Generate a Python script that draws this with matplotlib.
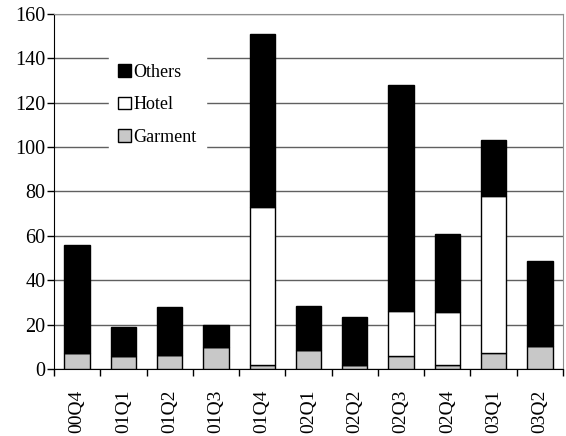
import matplotlib
matplotlib.use('Agg')
import matplotlib.pyplot as plt
import numpy as np

plt.rcParams['font.family'] = ['Liberation Serif', 'DejaVu Serif']

quarters = ['00Q4', '01Q1', '01Q2', '01Q3', '01Q4', '02Q1', '02Q2',
            '02Q3', '02Q4', '03Q1', '03Q2']
garment = [7, 6, 6.5, 10, 2, 8.5, 2, 6, 2, 7, 10.5]
hotel = [0, 0, 0, 0, 71, 0, 0, 20, 23.5, 71, 0]
others = [49, 13, 21.5, 10, 78, 20, 21.5, 102, 35.5, 25, 38]

fig = plt.figure(figsize=(5.66, 4.36), dpi=100)
ax = fig.add_axes([0.0954, 0.1537, 0.8993, 0.8143])

x = np.arange(len(quarters))
g = np.array(garment)
h = np.array(hotel)
o = np.array(others)
w = 0.55

ax.bar(x, g, w, color='#c8c8c8', edgecolor='black', linewidth=1, label='Garment', zorder=3)
ax.bar(x, h, w, bottom=g, color='white', edgecolor='black', linewidth=1, label='Hotel', zorder=3)
ax.bar(x, o, w, bottom=g + h, color='black', edgecolor='black', linewidth=1, label='Others', zorder=3)

ax.set_ylim(0, 160)
ax.set_xlim(-0.5, len(quarters) - 0.5)
ax.set_yticks(range(0, 161, 20))
ax.yaxis.grid(True, color='#606060', linewidth=1, zorder=0)
ax.set_axisbelow(True)

ax.set_xticks(x)
ax.set_xticklabels(quarters, rotation=90, fontsize=14)
ax.set_xticks(np.arange(-0.5, len(quarters)), minor=True)
ax.tick_params(axis='x', which='major', length=0, pad=15)
ax.tick_params(axis='x', which='minor', length=5, width=1, direction='out')
ax.tick_params(axis='y', labelsize=14.5, length=5, width=1, direction='out', pad=1)

for s in ['top', 'right']:
    ax.spines[s].set_color('#909090')
for s in ['left', 'bottom']:
    ax.spines[s].set_color('black')

handles, labels = ax.get_legend_handles_labels()
leg = ax.legend(handles[::-1], labels[::-1], loc='upper left',
                bbox_to_anchor=(0.108, 0.885), borderaxespad=0,
                frameon=True, fancybox=False, edgecolor='white',
                framealpha=1, fontsize=13, handlelength=0.7,
                handleheight=0.7, handletextpad=0.15, labelspacing=0.85,
                borderpad=0.5)
leg.set_zorder(5)

fig.savefig('out.png', dpi=100)
